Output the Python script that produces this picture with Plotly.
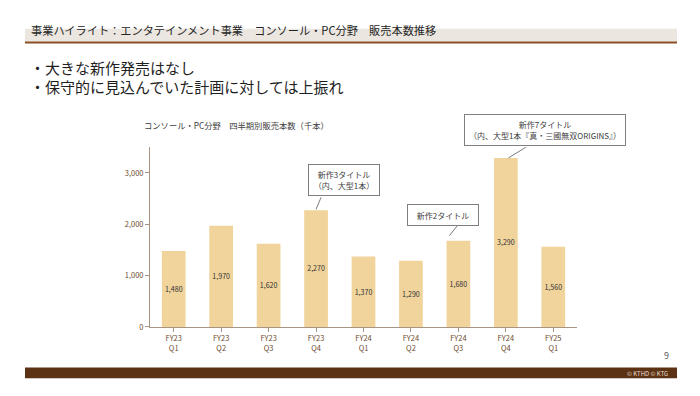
import plotly.graph_objects as go

# ---- data ----
fy_labels = ["FY23", "FY23", "FY23", "FY23", "FY24", "FY24", "FY24", "FY24", "FY25"]
q_labels = ["Q1", "Q2", "Q3", "Q4", "Q1", "Q2", "Q3", "Q4", "Q1"]
units_k = [1480, 1970, 1620, 2270, 1370, 1290, 1680, 3290, 1560]
y_ticks = [0, 1000, 2000, 3000]

title_text = "事業ハイライト：エンタテインメント事業　コンソール・PC分野　販売本数推移"
bullets = ["・大きな新作発売はなし", "・保守的に見込んでいた計画に対しては上振れ"]
chart_title = "コンソール・PC分野　四半期別販売本数（千本）"
callout_idx = [3, 6, 7]
callout_text = ["新作3タイトル<br>（内、大型1本）",
                "新作2タイトル",
                "新作7タイトル<br>（内、大型1本『真・三國無双ORIGINS』）"]

categories = [f"{a}<br>{b}" for a, b in zip(fy_labels, q_labels)]

W, H = 700, 396
OFF = 8  # page body margin offset
FONT = "Noto Sans CJK JP"
BROWN_TXT = "#6E4B2E"
AXIS = "#A89482"


def px(x):
    return (x - OFF) / W


def py(y):
    return 1 - (y - OFF) / H


fig = go.Figure()
fig.add_trace(go.Bar(
    x=list(range(len(categories))), y=units_k,
    marker=dict(color="#F0D49C", line=dict(width=0)),
    width=0.5,
    texttemplate="%{y:,}", textposition="inside", insidetextanchor="middle",
    textfont=dict(family=FONT, size=9, color="#333333"),
    textangle=0, cliponaxis=False, hoverinfo="skip",
))

shapes = []
# title band
shapes.append(dict(type="rect", xref="paper", yref="paper", x0=px(25), x1=px(677),
                   y0=py(42), y1=py(29), fillcolor="#EBE6E0", line=dict(width=0), layer="below"))
shapes.append(dict(type="rect", xref="paper", yref="paper", x0=px(25), x1=px(677),
                   y0=py(44), y1=py(42), fillcolor="#8B4F24", line=dict(width=0), layer="below"))
# footer bar
shapes.append(dict(type="rect", xref="paper", yref="paper", x0=px(25), x1=px(677),
                   y0=py(383), y1=py(372), fillcolor="#5C3214", line=dict(width=0), layer="below"))

# callout boxes & leaders (pixel offsets relative to bar top)
box_off = [(-8, 64, 14, 46), (-51, 21, 15, 37), (-42, 120, 12, 44)]
lead_off = [(0, 1, 5, 13), (-9, 5, -1, 15), (2.5, 0, 22, 12)]
ann = []
for i, t, b, l in zip(callout_idx, callout_text, box_off, lead_off):
    v = units_k[i]
    shapes.append(dict(type="line", xref="x", yref="y", xsizemode="pixel", ysizemode="pixel",
                       xanchor=i, yanchor=v, x0=l[0], y0=l[1], x1=l[2], y1=l[3],
                       line=dict(color="#595959", width=0.8), layer="above"))
    ann.append(dict(x=i, y=v, xref="x", yref="y", showarrow=False, text=t,
                    xanchor="center", yanchor="middle",
                    xshift=(b[0] + b[1]) / 2, yshift=(b[2] + b[3]) / 2,
                    width=b[1] - b[0] - 2, height=b[3] - b[2] - 2,
                    bordercolor="#7F7F7F", borderwidth=1, borderpad=0, bgcolor="white",
                    valign="middle",
                    font=dict(family=FONT, size=8, color="#404040"), align="center"))

# texts
ann.append(dict(x=px(29), y=py(30), xref="paper", yref="paper", showarrow=False,
                text=title_text, xanchor="left", yanchor="middle",
                font=dict(family=FONT, size=11.2, color="#262626")))
for k, b in enumerate(bullets):
    ann.append(dict(x=px(28), y=py(68 + 20 * k), xref="paper", yref="paper", showarrow=False,
                    text=b, xanchor="left", yanchor="middle",
                    font=dict(family=FONT, size=15, color="#1F1F1F")))
ann.append(dict(x=px(142), y=py(127), xref="paper", yref="paper", showarrow=False,
                text=chart_title, xanchor="left", yanchor="middle",
                font=dict(family=FONT, size=8.3, color="#404040")))
ann.append(dict(x=px(671), y=py(360), xref="paper", yref="paper", showarrow=False,
                text="9", xanchor="right", yanchor="middle",
                font=dict(family=FONT, size=9, color="#595959")))
ann.append(dict(x=px(670), y=py(378), xref="paper", yref="paper", showarrow=False,
                text="© KTHD © KTG", xanchor="right", yanchor="middle",
                font=dict(family=FONT, size=6, color="#E8DCCF")))

fig.update_layout(
    width=W, height=H, autosize=False,
    margin=dict(l=0, r=0, t=0, b=0),
    paper_bgcolor="white", plot_bgcolor="white",
    showlegend=False, bargap=0.5,
    shapes=shapes, annotations=ann,
    xaxis=dict(domain=[px(150), px(577)], range=[-0.5, len(categories) - 0.5],
               tickvals=list(range(len(categories))), ticktext=categories,
               showline=True, linecolor=AXIS, linewidth=1,
               ticks="outside", ticklen=4, tickcolor=AXIS,
               showgrid=False, zeroline=False,
               tickfont=dict(family=FONT, size=7.5, color=BROWN_TXT)),
    yaxis=dict(domain=[py(331), py(149)], range=[0, 3500],
               tickvals=y_ticks, tickformat=",",
               showline=True, linecolor=AXIS, linewidth=1,
               ticks="outside", ticklen=4, tickcolor=AXIS,
               showgrid=False, zeroline=False,
               tickfont=dict(family=FONT, size=7.5, color=BROWN_TXT)),
)

# x ticks at category boundaries
fig.update_xaxes(tickson="boundaries")

fig.write_html("out.html")
